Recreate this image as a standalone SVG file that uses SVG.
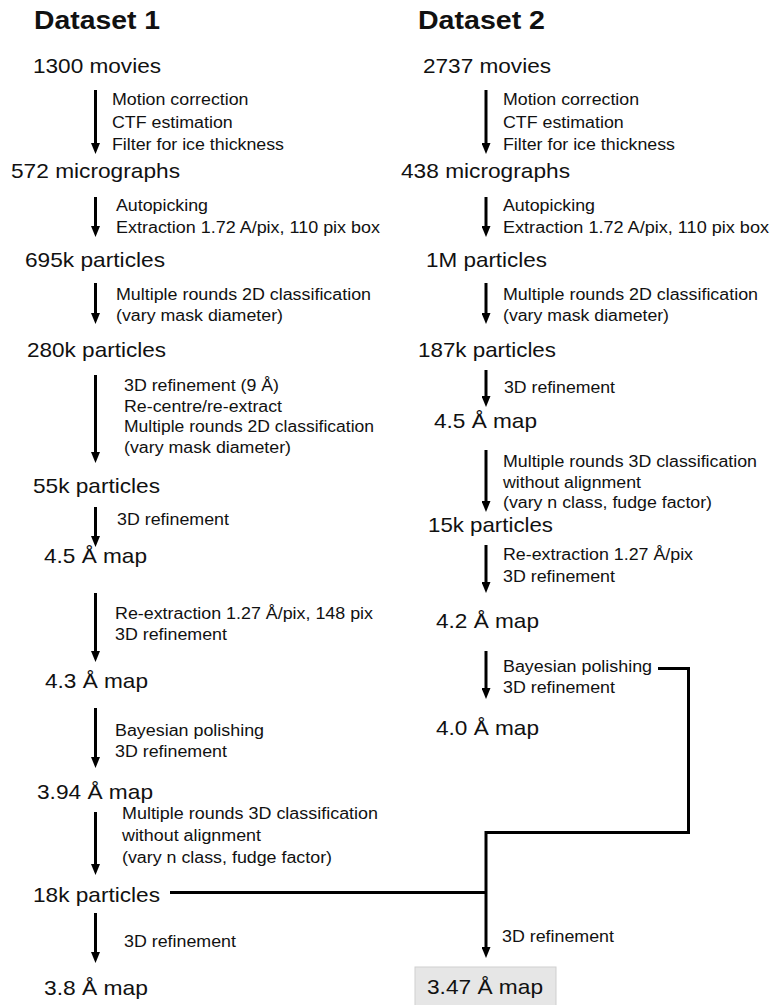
<svg xmlns="http://www.w3.org/2000/svg" width="771" height="1005" viewBox="0 0 771 1005">
  <style>
    text { font-family: "Liberation Sans", Arial, Helvetica, sans-serif; fill: #111; }
    .title { font-size: 26px; font-weight: bold; }
    .node { font-size: 21px; }
    .step { font-size: 16px; }
    .arrow { stroke: #000; stroke-width: 3; fill: none; marker-end: url(#head); }
    .link { stroke: #000; stroke-width: 3; fill: none; }
    .final { fill: #e6e6e6; stroke: #cfcfcf; stroke-width: 1; }
  </style>
  <defs>
    <marker id="head" viewBox="0 0 11 9" refX="2" refY="4.5" markerWidth="11" markerHeight="9" markerUnits="userSpaceOnUse" orient="auto">
      <path d="M0,0 L11,4.5 L0,9 z" fill="#000"/>
    </marker>
  </defs>

  <rect width="771" height="1005" fill="#fff"/>

  <!-- column headings -->
  <g id="heading-1"><text class="title" x="34" y="29" textLength="126" lengthAdjust="spacingAndGlyphs">Dataset 1</text></g>
  <g id="heading-2"><text class="title" x="418" y="29" textLength="127" lengthAdjust="spacingAndGlyphs">Dataset 2</text></g>

  <!-- connectors -->
  <g id="connectors">
    <!-- dataset 1 -->
    <path class="arrow" d="M95.5,90 V145"/>
    <path class="arrow" d="M95.5,197 V228"/>
    <path class="arrow" d="M95.5,283 V315"/>
    <path class="arrow" d="M95.5,375 V454"/>
    <path class="arrow" d="M95.5,507 V538"/>
    <path class="arrow" d="M95.5,593 V653"/>
    <path class="arrow" d="M95.5,708 V759"/>
    <path class="arrow" d="M95.5,812 V866"/>
    <path class="arrow" d="M95.5,913 V954"/>
    <!-- dataset 2 -->
    <path class="arrow" d="M486,90 V145"/>
    <path class="arrow" d="M486,197 V228"/>
    <path class="arrow" d="M486,283 V315"/>
    <path class="arrow" d="M486,370 V398"/>
    <path class="arrow" d="M486,450 V503"/>
    <path class="arrow" d="M486,545 V584"/>
    <path class="arrow" d="M486,651 V690"/>
    <!-- merge of both datasets -->
    <path class="link" d="M170,892.5 H486"/>
    <path class="link" d="M658,668.5 H688.5 V832.5 H486"/>
    <path class="arrow" d="M486,831 V949"/>
  </g>

  <!-- step labels -->
  <g id="steps" class="step">
    <text x="112" y="105" textLength="136.5" lengthAdjust="spacingAndGlyphs">Motion correction</text>
    <text x="112" y="127.5" textLength="120.7" lengthAdjust="spacingAndGlyphs">CTF estimation</text>
    <text x="112" y="150" textLength="172" lengthAdjust="spacingAndGlyphs">Filter for ice thickness</text>
    <text x="116" y="211" textLength="92" lengthAdjust="spacingAndGlyphs">Autopicking</text>
    <text x="116" y="233" textLength="264" lengthAdjust="spacingAndGlyphs">Extraction 1.72 A/pix, 110 pix box</text>
    <text x="116" y="299.5" textLength="255" lengthAdjust="spacingAndGlyphs">Multiple rounds 2D classification</text>
    <text x="116" y="321" textLength="167" lengthAdjust="spacingAndGlyphs">(vary mask diameter)</text>
    <text x="124" y="391" textLength="155" lengthAdjust="spacingAndGlyphs">3D refinement (9 Å)</text>
    <text x="124" y="411.5" textLength="158" lengthAdjust="spacingAndGlyphs">Re-centre/re-extract</text>
    <text x="124" y="432" textLength="250" lengthAdjust="spacingAndGlyphs">Multiple rounds 2D classification</text>
    <text x="124" y="452.5" textLength="167" lengthAdjust="spacingAndGlyphs">(vary mask diameter)</text>
    <text x="117" y="525" textLength="112" lengthAdjust="spacingAndGlyphs">3D refinement</text>
    <text x="115" y="619" textLength="258" lengthAdjust="spacingAndGlyphs">Re-extraction 1.27 Å/pix, 148 pix</text>
    <text x="115" y="639.5" textLength="112" lengthAdjust="spacingAndGlyphs">3D refinement</text>
    <text x="115" y="736" textLength="149" lengthAdjust="spacingAndGlyphs">Bayesian polishing</text>
    <text x="115" y="756.5" textLength="112" lengthAdjust="spacingAndGlyphs">3D refinement</text>
    <text x="122" y="819" textLength="256" lengthAdjust="spacingAndGlyphs">Multiple rounds 3D classification</text>
    <text x="122" y="840.5" textLength="139" lengthAdjust="spacingAndGlyphs">without alignment</text>
    <text x="122" y="862.5" textLength="210" lengthAdjust="spacingAndGlyphs">(vary n class, fudge factor)</text>
    <text x="124" y="947" textLength="112" lengthAdjust="spacingAndGlyphs">3D refinement</text>

    <text x="503" y="105" textLength="136" lengthAdjust="spacingAndGlyphs">Motion correction</text>
    <text x="503" y="127.5" textLength="120.7" lengthAdjust="spacingAndGlyphs">CTF estimation</text>
    <text x="503" y="150" textLength="172" lengthAdjust="spacingAndGlyphs">Filter for ice thickness</text>
    <text x="503" y="211" textLength="92" lengthAdjust="spacingAndGlyphs">Autopicking</text>
    <text x="503" y="233" textLength="266" lengthAdjust="spacingAndGlyphs">Extraction 1.72 A/pix, 110 pix box</text>
    <text x="503" y="299.5" textLength="255" lengthAdjust="spacingAndGlyphs">Multiple rounds 2D classification</text>
    <text x="503" y="321" textLength="166" lengthAdjust="spacingAndGlyphs">(vary mask diameter)</text>
    <text x="504" y="393" textLength="111" lengthAdjust="spacingAndGlyphs">3D refinement</text>
    <text x="503" y="467" textLength="254" lengthAdjust="spacingAndGlyphs">Multiple rounds 3D classification</text>
    <text x="503" y="487.5" textLength="138" lengthAdjust="spacingAndGlyphs">without alignment</text>
    <text x="503" y="508" textLength="209" lengthAdjust="spacingAndGlyphs">(vary n class, fudge factor)</text>
    <text x="503" y="560" textLength="190" lengthAdjust="spacingAndGlyphs">Re-extraction 1.27 Å/pix</text>
    <text x="503" y="581.5" textLength="112" lengthAdjust="spacingAndGlyphs">3D refinement</text>
    <text x="503" y="672" textLength="149" lengthAdjust="spacingAndGlyphs">Bayesian polishing</text>
    <text x="503" y="693" textLength="112" lengthAdjust="spacingAndGlyphs">3D refinement</text>
    <text x="502" y="942" textLength="112" lengthAdjust="spacingAndGlyphs">3D refinement</text>
  </g>

  <!-- dataset 1 nodes -->
  <g id="d1-movies"><text class="node" x="33" y="73" textLength="128" lengthAdjust="spacingAndGlyphs">1300 movies</text></g>
  <g id="d1-micrographs"><text class="node" x="11" y="178" textLength="169" lengthAdjust="spacingAndGlyphs">572 micrographs</text></g>
  <g id="d1-particles-695k"><text class="node" x="25" y="267" textLength="140" lengthAdjust="spacingAndGlyphs">695k particles</text></g>
  <g id="d1-particles-280k"><text class="node" x="27" y="357" textLength="139" lengthAdjust="spacingAndGlyphs">280k particles</text></g>
  <g id="d1-particles-55k"><text class="node" x="33" y="493" textLength="127" lengthAdjust="spacingAndGlyphs">55k particles</text></g>
  <g id="d1-map-4-5"><text class="node" x="44" y="563" textLength="103" lengthAdjust="spacingAndGlyphs">4.5 Å map</text></g>
  <g id="d1-map-4-3"><text class="node" x="45" y="688" textLength="103" lengthAdjust="spacingAndGlyphs">4.3 Å map</text></g>
  <g id="d1-map-3-94"><text class="node" x="37" y="799" textLength="116" lengthAdjust="spacingAndGlyphs">3.94 Å map</text></g>
  <g id="d1-particles-18k"><text class="node" x="33" y="902" textLength="127" lengthAdjust="spacingAndGlyphs">18k particles</text></g>
  <g id="d1-map-3-8"><text class="node" x="44" y="995" textLength="104" lengthAdjust="spacingAndGlyphs">3.8 Å map</text></g>

  <!-- dataset 2 nodes -->
  <g id="d2-movies"><text class="node" x="423" y="73" textLength="128" lengthAdjust="spacingAndGlyphs">2737 movies</text></g>
  <g id="d2-micrographs"><text class="node" x="401" y="178" textLength="169" lengthAdjust="spacingAndGlyphs">438 micrographs</text></g>
  <g id="d2-particles-1M"><text class="node" x="426" y="267" textLength="121" lengthAdjust="spacingAndGlyphs">1M particles</text></g>
  <g id="d2-particles-187k"><text class="node" x="418" y="357" textLength="138" lengthAdjust="spacingAndGlyphs">187k particles</text></g>
  <g id="d2-map-4-5"><text class="node" x="434" y="428" textLength="103" lengthAdjust="spacingAndGlyphs">4.5 Å map</text></g>
  <g id="d2-particles-15k"><text class="node" x="428" y="532" textLength="125" lengthAdjust="spacingAndGlyphs">15k particles</text></g>
  <g id="d2-map-4-2"><text class="node" x="436" y="628" textLength="103" lengthAdjust="spacingAndGlyphs">4.2 Å map</text></g>
  <g id="d2-map-4-0"><text class="node" x="436" y="735" textLength="103" lengthAdjust="spacingAndGlyphs">4.0 Å map</text></g>

  <!-- combined result -->
  <g id="combined-map-3-47">
    <rect class="final" x="415" y="967" width="141" height="40"/>
    <text class="node" x="427" y="994" textLength="116" lengthAdjust="spacingAndGlyphs">3.47 Å map</text>
  </g>
</svg>
